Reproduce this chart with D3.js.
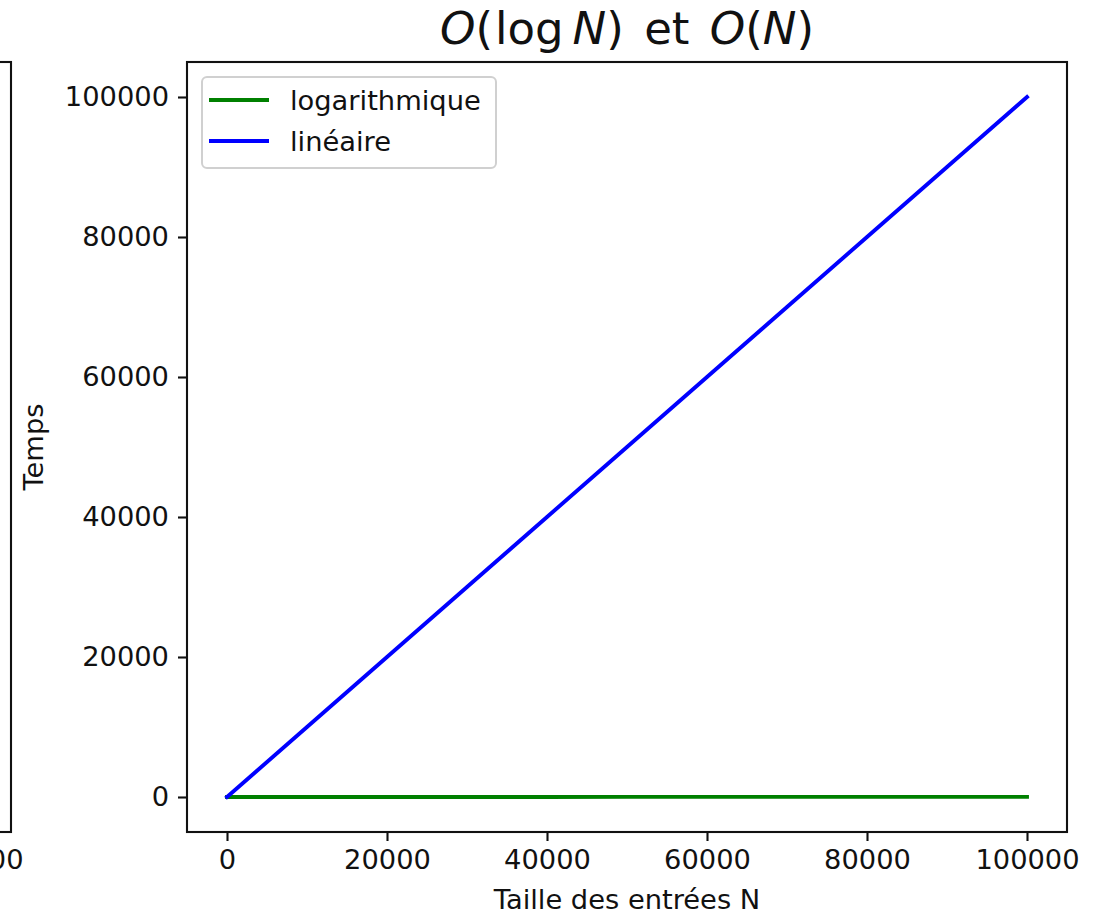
<!DOCTYPE html>
<html>
<head>
<meta charset="utf-8">
<script src="https://cdn.jsdelivr.net/npm/d3@7"></script>
<style>
  html, body { margin: 0; padding: 0; background: #fff; }
  svg { display: block; font-family: "DejaVu Sans", sans-serif; }
</style>
</head>
<body>
<svg id="chart" width="1109" height="916"></svg>
<script>
// Input sizes and measured running times for the two complexity classes
const sizes = [1, 10000, 20000, 30000, 40000, 50000, 60000, 70000, 80000, 90000, 100000];
const logTimes = [0, 9.21, 9.90, 10.31, 10.60, 10.82, 11.00, 11.16, 11.29, 11.41, 11.51];
const linTimes = [1, 10000, 20000, 30000, 40000, 50000, 60000, 70000, 80000, 90000, 100000];
const seriesNames = ["logarithmique", "linéaire"];
const seriesColors = ["green", "blue"];
const xTicks = [0, 20000, 40000, 60000, 80000, 100000];
const yTicks = [0, 20000, 40000, 60000, 80000, 100000];

const svg = d3.select("#chart");
const FS = 27.3;
const ink = "#111";

// Plot area
const plot = { left: 187, right: 1067, top: 62, bottom: 832 };

const x = d3.scaleLinear().domain([-5000, 105000]).range([plot.left, plot.right]);
const y = d3.scaleLinear().domain([-5000, 105000]).range([plot.bottom, plot.top]);

function styleAxis(g) {
  g.select(".domain").remove();
  g.selectAll(".tick line").attr("stroke", ink).attr("stroke-width", 2.1);
  g.selectAll(".tick text").attr("fill", ink).style("font-size", FS + "px")
    .style("font-family", "DejaVu Sans");
}

// Right edge of the neighbouring subplot (same x range, shifted left)
const xPrev = d3.scaleLinear().domain([-5000, 105000]).range([11 - 880, 11]);
const gPrev = svg.append("g");
gPrev.append("rect")
  .attr("x", xPrev.range()[0]).attr("y", plot.top)
  .attr("width", xPrev.range()[1] - xPrev.range()[0]).attr("height", plot.bottom - plot.top)
  .attr("fill", "none").attr("stroke", ink).attr("stroke-width", 2.1);
const prevAxis = gPrev.append("g")
  .attr("transform", `translate(0,${plot.bottom})`)
  .call(d3.axisBottom(xPrev).tickValues([100000]).tickFormat(d3.format("d")).tickSize(9).tickPadding(9));
styleAxis(prevAxis);

// Lines
const line = d3.line().x((d, i) => x(sizes[i])).y(d => y(d));
const series = [logTimes, linTimes];

svg.append("clipPath").attr("id", "clip")
  .append("rect").attr("x", plot.left).attr("y", plot.top)
  .attr("width", plot.right - plot.left).attr("height", plot.bottom - plot.top);

svg.append("g").attr("clip-path", "url(#clip)")
  .selectAll("path").data(series).join("path")
  .attr("d", d => line(d))
  .attr("fill", "none")
  .attr("stroke", (d, i) => seriesColors[i])
  .attr("stroke-width", 3.9)
  .attr("stroke-linecap", "square");

// Axes
const xAxis = svg.append("g")
  .attr("transform", `translate(0,${plot.bottom})`)
  .call(d3.axisBottom(x).tickValues(xTicks).tickFormat(d3.format("d")).tickSize(9).tickPadding(9));
styleAxis(xAxis);

const yAxis = svg.append("g")
  .attr("transform", `translate(${plot.left},0)`)
  .call(d3.axisLeft(y).tickValues(yTicks).tickFormat(d3.format("d")).tickSize(9).tickPadding(9));
styleAxis(yAxis);

// Frame
svg.append("rect")
  .attr("x", plot.left).attr("y", plot.top)
  .attr("width", plot.right - plot.left).attr("height", plot.bottom - plot.top)
  .attr("fill", "none").attr("stroke", ink).attr("stroke-width", 2.1);

// Legend
const lg = svg.append("g");
lg.append("rect")
  .attr("x", 202).attr("y", 77).attr("width", 294).attr("height", 91)
  .attr("rx", 5).attr("ry", 5)
  .attr("fill", "#fff").attr("fill-opacity", 0.8)
  .attr("stroke", "#d0d0d0").attr("stroke-width", 2);
const rows = lg.selectAll("g.row").data(seriesNames).join("g")
  .attr("class", "row")
  .attr("transform", (d, i) => `translate(0,${100 + i * 41})`);
rows.append("line")
  .attr("x1", 209).attr("x2", 269).attr("y1", 0).attr("y2", 0)
  .attr("stroke", (d, i) => seriesColors[i]).attr("stroke-width", 3.9);
rows.append("text")
  .attr("x", 290).attr("y", 0).attr("dy", "0.35em")
  .style("font-size", FS + "px").attr("fill", ink)
  .text(d => d);

// Axis labels
svg.append("text")
  .attr("x", (plot.left + plot.right) / 2).attr("y", 909)
  .attr("text-anchor", "middle")
  .style("font-size", FS + "px").attr("fill", ink)
  .text("Taille des entrées N");

svg.append("text")
  .attr("transform", `translate(43,${(plot.top + plot.bottom) / 2}) rotate(-90)`)
  .attr("text-anchor", "middle")
  .style("font-size", FS + "px").attr("fill", ink)
  .text("Temps");

// Title: O(log N) et O(N)
const title = svg.append("text")
  .attr("x", (plot.left + plot.right) / 2).attr("y", 44)
  .attr("text-anchor", "middle")
  .style("font-size", "45px").attr("fill", ink);
const parts = [
  ["O", true, 0], ["(", false, 0], ["log", false, 2], ["\u2009", false, 0], ["N", true, 0], [")", false, 0],
  [" et ", false, 6], ["O", true, 6], ["(", false, 0], ["N", true, 0], [")", false, 0]
];
parts.forEach(([t, it, dx]) => {
  title.append("tspan").attr("dx", dx).style("font-style", it ? "italic" : "normal").text(t);
});
</script>
</body>
</html>
